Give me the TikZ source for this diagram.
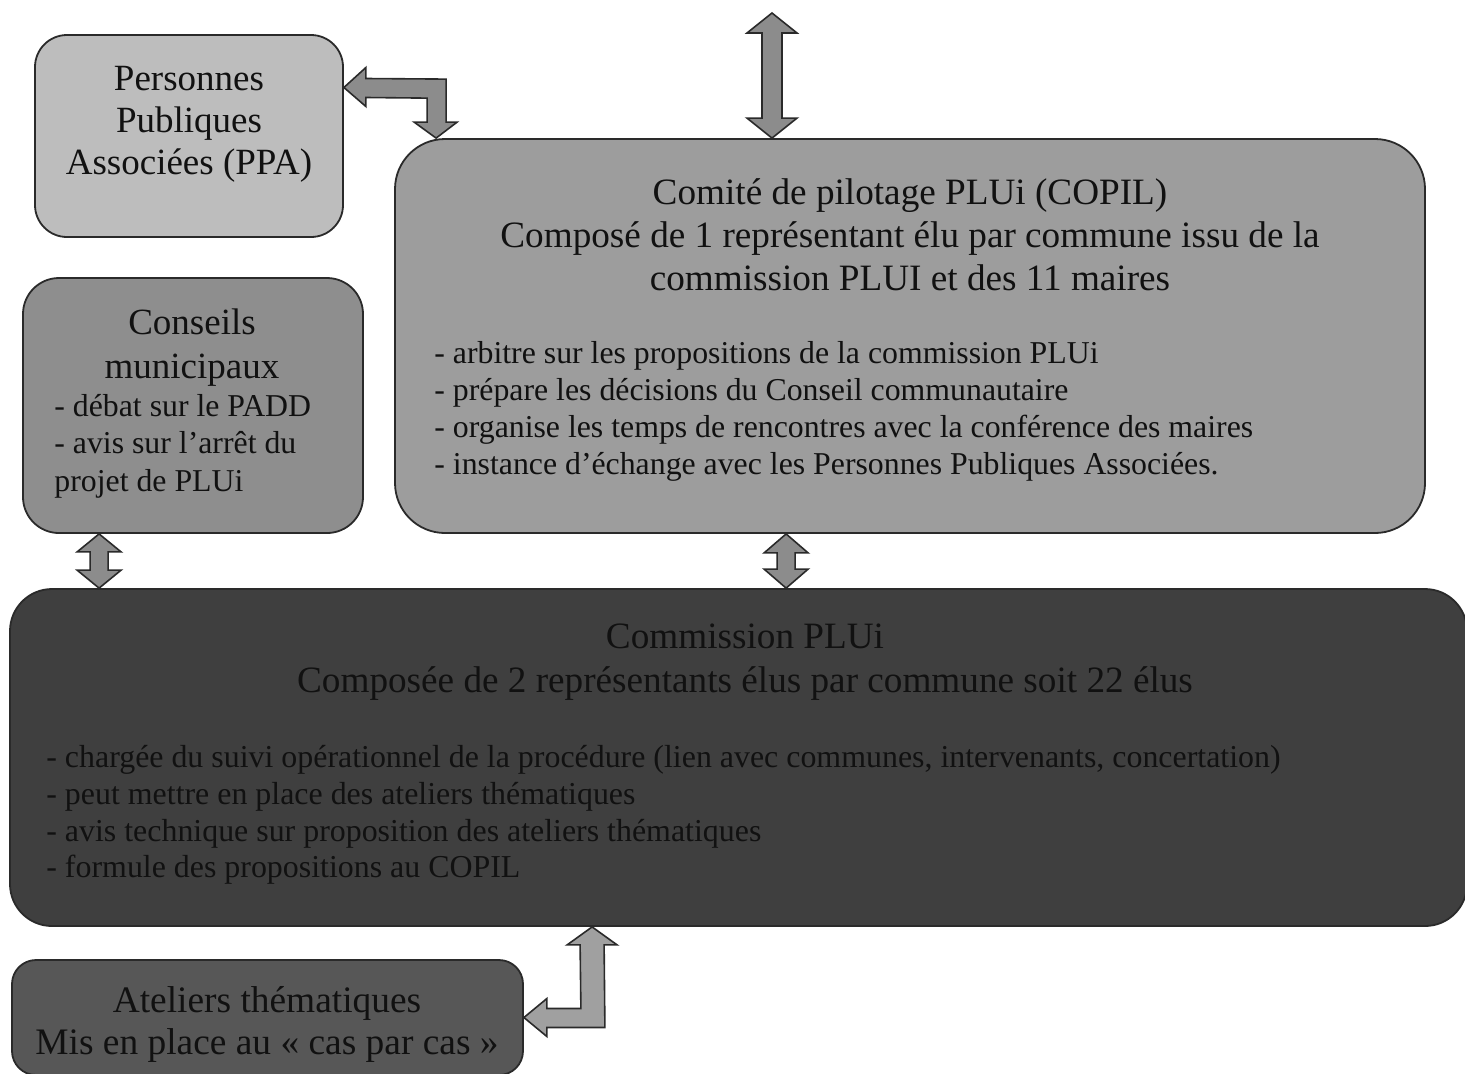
\documentclass[tikz,border=0pt]{standalone}
\usepackage{fontspec}
\setmainfont{Liberation Serif}
\usetikzlibrary{calc}
\definecolor{ppafill}{HTML}{BDBDBD}
\definecolor{conffill}{HTML}{8E8E8E}
\definecolor{copilfill}{HTML}{9D9D9D}
\definecolor{commfill}{HTML}{3F3F3F}
\definecolor{atelfill}{HTML}{575757}
\definecolor{arrfill}{HTML}{8C8C8C}
\definecolor{arrfilltwo}{HTML}{A0A0A0}
\definecolor{edge}{HTML}{2A2A2A}
\definecolor{ink}{HTML}{111111}
% vertical double block arrow: #1 top tip, #2 bottom tip, #3 head half width, #4 shaft half width, #5 head length (px)
\newcommand{\vdblarrow}[5]{%
  \draw[barrow] (#1) -- ++(#3,#5) -- ++(-#3+#4,0) -- ($(#2)+(#4,-#5)$) -- ++(#3-#4,0)
    -- (#2) -- ++(-#3,-#5) -- ++(#3-#4,0) -- ($(#1)+(-#4,#5)$) -- ++(-#3+#4,0) -- cycle;}
\begin{document}
\begin{tikzpicture}[x=0.5pt,y=-0.5pt,
  box/.style={draw=edge, line width=0.9pt, inner sep=0pt, rectangle},
  barrow/.style={draw=edge, line width=0.8pt, fill=arrfill, line join=miter},
  titletxt/.style={font=\fontsize{18.6}{21.5}\selectfont, align=center, text=ink, inner sep=0pt},
  bullettxt/.style={font=\fontsize{15.9}{18.5}\selectfont, align=left, text=ink, inner sep=0pt, anchor=west}]
\useasboundingbox (0,0) rectangle (1465,1073);

% boxes
\node[box, fill=ppafill, minimum width=154pt, minimum height=101pt, rounded corners=16pt] (ppa) at (189,136) {};
\node[box, fill=conffill, minimum width=170pt, minimum height=127.5pt, rounded corners=18pt] (conseils) at (193,405.5) {};
\node[box, fill=copilfill, minimum width=515pt, minimum height=197pt, rounded corners=25pt] (copil) at (910,336) {};
\node[box, fill=commfill, minimum width=728.5pt, minimum height=168.5pt, rounded corners=21pt] (comm) at (738.5,757.5) {};
\node[box, fill=atelfill, minimum width=255.5pt, minimum height=57.5pt, rounded corners=12pt] (atel) at (267.5,1017.5) {};

% texts
\node[titletxt, font=\fontsize{18.5}{21}\selectfont] (ppatxt) at (189,124) {Personnes\\Publiques\\Associées (PPA)};
\node[titletxt, font=\fontsize{18.5}{22}\selectfont] (conftitle) at (192,348) {Conseils\\municipaux};
\node[bullettxt, font=\fontsize{15.9}{18.75}\selectfont] (confbul) at (54,446) {- débat sur le PADD\\- avis sur l’arrêt du\\projet de PLUi};
\node[titletxt] (copiltitle) at (910,235) {Comité de pilotage PLUi (COPIL)\\Composé de 1 représentant élu par commune issu de la\\commission PLUI et des 11 maires};
\node[bullettxt] (copilbul) at (434,411) {- arbitre sur les propositions de la commission PLUi\\- prépare les décisions du Conseil communautaire\\- organise les temps de rencontres avec la conférence des maires\\- instance d’échange avec les Personnes Publiques Associées.};
\node[titletxt, font=\fontsize{18.6}{22}\selectfont] (commtitle) at (745,662) {Commission PLUi\\Composée de 2 représentants élus par commune soit 22 élus};
\node[bullettxt, font=\fontsize{15.95}{18.35}\selectfont] (commbul) at (46,815) {- chargée du suivi opérationnel de la procédure (lien avec communes, intervenants, concertation)\\- peut mettre en place des ateliers thématiques\\- avis technique sur proposition des ateliers thématiques\\- formule des propositions au COPIL};
\node[titletxt, font=\fontsize{18.7}{21}\selectfont] (ateltxt) at (267,1024) {Ateliers thématiques\\Mis en place au «~cas par cas~»};

% connector end points
\coordinate (a1) at ($(ppa.north east)!0.262!(ppa.south east)$);
\coordinate (a2) at ($(copil.north west)+(42,0)$);
\coordinate (topend) at (772,13);
\coordinate (t2) at (topend |- copil.north);
\coordinate (c1) at ($(conseils.south west)+(77,0)$);
\coordinate (c2) at (c1 |- comm.north);
\coordinate (p1) at ($(copil.south west)+(392,0)$);
\coordinate (p2) at (p1 |- comm.north);
\coordinate (b1) at ($(comm.south west)+(583,0)$);
\coordinate (b2) at (atel.east);

% bent arrow PPA <-> COPIL
\draw[barrow] (a1) -- ++(22,-20) -- ++(0,11) -- ($(a2)+(10,-59)$) -- ($(a2)+(10,-16)$)
  -- ($(a2)+(21,-16)$) -- (a2) -- ($(a2)+(-22,-16)$) -- ($(a2)+(-9,-16)$)
  -- ($(a2)+(-9,-40)$) -- ($(a1)+(22,10)$) -- ($(a1)+(22,19)$) -- cycle;

% vertical double arrows
\vdblarrow{topend}{t2}{25}{10}{20}
\vdblarrow{c1}{c2}{22}{9}{18}
\vdblarrow{p1}{p2}{22}{9}{19}

% bent arrow Commission <-> Ateliers
\draw[barrow, fill=arrfilltwo] (b1) -- ++(25,18) -- ++(-13,0) -- ($(b2)+(81,10)$) -- ($(b2)+(23,10)$)
  -- ($(b2)+(23,19)$) -- (b2) -- ($(b2)+(23,-19)$) -- ($(b2)+(23,-9)$) -- ($(b2)+(57,-9)$)
  -- ($(b1)+(-12,18)$) -- ($(b1)+(-25,18)$) -- cycle;
\end{tikzpicture}
\end{document}
